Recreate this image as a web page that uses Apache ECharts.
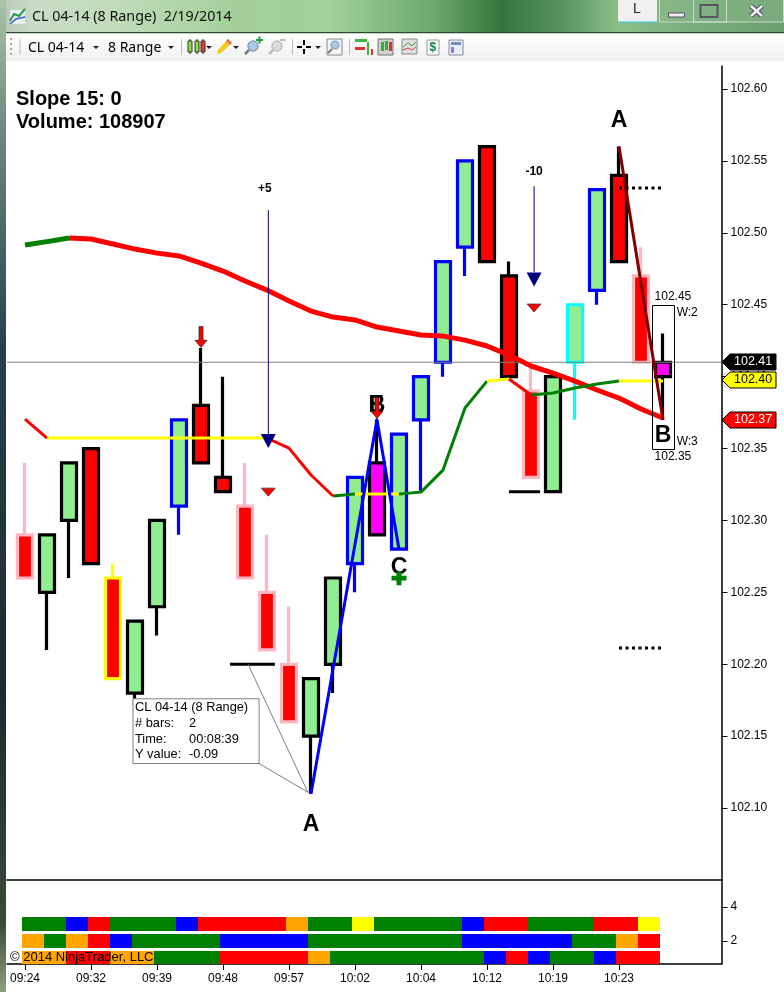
<!DOCTYPE html>
<html><head><meta charset="utf-8">
<style>html,body{margin:0;padding:0;background:#fff}#c{width:784px;height:992px}</style>
<script src="https://cdn.jsdelivr.net/npm/echarts@6/dist/echarts.min.js"></script>
</head><body><div id="c"></div>
<script>
// ---- data ----
const timeLabels = ['09:24','09:32','09:39','09:48','09:57','10:02','10:04','10:12','10:19','10:23'];
const timeTickBars = [0,3,6,9,12,15,18,21,24,27];
const priceTicks = [102.10,102.15,102.20,102.25,102.30,102.35,102.40,102.45,102.50,102.55,102.60];
const lowerTicks = [2,4];
const opens  = [102.29,102.25,102.30,102.35,102.26,102.18,102.24,102.31,102.38,102.33,102.31,102.25,102.20,102.15,102.20,102.27,102.29,102.28,102.37,102.41,102.49,102.56,102.47,102.39,102.32,102.41,102.46,102.54,102.47,102.40];
const closes = [102.26,102.29,102.34,102.27,102.19,102.23,102.30,102.37,102.34,102.32,102.26,102.21,102.16,102.19,102.26,102.33,102.34,102.36,102.40,102.48,102.55,102.48,102.40,102.33,102.40,102.45,102.53,102.48,102.41,102.41];
const lows   = [102.26,102.21,102.26,102.27,102.19,102.17,102.22,102.29,102.34,102.32,102.26,102.21,102.16,102.11,102.18,102.25,102.29,102.28,102.32,102.40,102.47,102.48,102.40,102.33,102.32,102.37,102.45,102.48,102.41,102.37];
const highs  = [102.34,102.29,102.34,102.35,102.27,102.23,102.30,102.37,102.42,102.40,102.34,102.29,102.24,102.19,102.26,102.33,102.37,102.36,102.40,102.48,102.55,102.56,102.48,102.41,102.40,102.45,102.53,102.56,102.49,102.43];
const barOutline = ['pink','black','black','black','yellow','black','black','blue','black','black','pink','pink','pink','black','black','blue','black','blue','blue','blue','blue','black','black','pink','black','cyan','blue','black','pink','black'];
const magentaBars = [16,29];
const slowMA = [102.4915,102.4939,102.4964,102.4957,102.4922,102.4887,102.4859,102.4839,102.4790,102.4734,102.4665,102.4602,102.4526,102.4456,102.4414,102.4394,102.4345,102.4317,102.4289,102.4282,102.4254,102.4213,102.4150,102.4074,102.4025,102.3969,102.3907,102.3851,102.3775,102.3712];
const slowMAColorRuns = [['green',2],['red',27]];
const fastMA = [102.3705,102.3573,102.3573,102.3573,102.3573,102.3573,102.3573,102.3573,102.3573,102.3573,102.3573,102.3573,102.3503,102.3316,102.3170,102.3184,102.3184,102.3184,102.3197,102.3350,102.3782,102.3969,102.3983,102.3872,102.3886,102.3921,102.3949,102.3969,102.3969,102.3969];
const fastMAColorRuns = [['red',1],['yellow',10],['red',3],['green',1],['yellow',2],['green',4],['yellow',1],['red',1],['green',4],['yellow',2]];
const zigzagBlue = [[13,102.11],[16,102.37],[17,102.28]];
const zigzagRed = [[27,102.56],[29,102.37]];
const crosshairPrice = 102.41;
const blackLevels = [[9.32,11.36,102.20],[22,23.41,102.32]];
const dottedLevels = [[27,29.05,102.5312],[27,29.05,102.2113]];
const arrowStems = [[11.06,102.5159,102.3594],[23.14,102.5325,102.4727]];
const navyTriangles = [[11.06,102.3552],[23.14,102.4675]];
const redTriangles = [[11.06,102.3197],[23.14,102.4477]];
const redArrows = [[8,102.4275],[16,102.3782]];
const greenPlus = [[17,102.2599]];
const bigLabels = [[13,102.0882,'A'],[27,102.578,'A'],[29,102.359,'B'],[17,102.267,'C'],[15.96,102.3796,'E'],[16,102.3796,'B']];
const stemLabels = [[10.9,102.5305,'+5'],[23.14,102.5423,'-10']];
const smallLabels = [[29.45,102.4553,'102.45'],[30.1,102.4442,'W:2'],[30.1,102.3545,'W:3'],[29.45,102.3441,'102.35']];
const rangeBox = [28.5,102.45,29.5,102.35];
const measureBox = [4.91,102.176,10.64,102.131];
const measureLines = ['CL 04-14 (8 Range)','# bars:','Time:','Y value:'];
const measureValues = ['','2','00:08:39','-0.09'];
const measureLeaders = [[[10.14,102.20],[12.86,102.111]],[[10.64,102.131],[12.86,102.111]]];
const priceTags = [[102.41,'102.41','black'],[102.398,'102.40','yellow'],[102.37,'102.37','red']];
const row3Runs = [['green',2],['blue',1],['red',1],['green',3],['blue',1],['red',4],['orange',1],['green',2],['yellow',1],['green',4],['blue',1],['red',2],['green',3],['red',2],['yellow',1]];
const row2Runs = [['orange',1],['green',1],['orange',1],['red',1],['blue',1],['green',4],['blue',4],['green',7],['blue',5],['green',2],['orange',1],['red',1]];
const row1Runs = [['orange',2],['red',2],['orange',2],['green',3],['red',4],['orange',1],['green',7],['blue',1],['red',1],['blue',1],['green',2],['blue',1],['red',2]];

// ---- layout constants ----
const F = '"Liberation Sans",Arial,sans-serif';
const palette = {green:'#008000',red:'#ff0000',blue:'#0000ff',yellow:'#ffff00',orange:'#ffa500',black:'#000',pink:'#ffb6c1',cyan:'#00ffff'};
const L=7,R=721.5,T=66,M=880,B=964;
const xMin=(L-25)/22,xMax=(R-25)/22;

const candleData = opens.map((o,i)=>{
  const c=palette[barOutline[i]];
  const fill=magentaBars.includes(i)?'#ff00ff':(closes[i]>o?'#90ee90':'#ff0000');
  return {value:[i,o,closes[i],lows[i],highs[i]],itemStyle:{color:fill,color0:fill,borderColor:c,borderColor0:c,borderColorDoji:c}};
});
function lineS(data,color,width,extra){return Object.assign({type:'line',data,symbol:'none',silent:true,animation:false,z:4,xAxisIndex:0,yAxisIndex:0,lineStyle:{color,width,cap:'butt',join:'round'}},extra||{});}
function runsSeries(vals,runs,width,z){
  const out=[];let s=0;
  runs.forEach(([c,n])=>{const d=[];for(let k=s;k<=s+n;k++)d.push([k,vals[k]]);out.push(lineS(d,palette[c],width,{z}));s+=n;});
  return out;
}
function labels(data,font,z){return {type:'scatter',data,symbolSize:1,itemStyle:{color:'transparent',opacity:1},silent:true,animation:false,z:z||8,clip:false,
  label:Object.assign({show:true,position:'inside',formatter:p=>p.data[2],color:'#000',fontFamily:F},font)};}
const cells=[];
[[3,row3Runs],[2,row2Runs],[1,row1Runs]].forEach(([row,runs])=>{let i=0;runs.forEach(([c,n])=>{for(let k=0;k<n;k++){cells.push([i,row,c]);i++;}});});

const arrowPath='path://M4,0 L8,0 L8,13 L12,13 L6,20 L0,13 L4,13 Z';
const plusPath='path://M5,0 L10,0 L10,5 L15,5 L15,10 L10,10 L10,15 L5,15 L5,10 L0,10 L0,5 L5,5 Z';

const series=[
 {type:'candlestick',data:candleData,encode:{x:0,y:[1,2,3,4]},barWidth:15,animation:false,silent:true,z:2,itemStyle:{borderWidth:3.2},clip:false},
 lineS([[xMin,crosshairPrice],[xMax,crosshairPrice]],'#808080',1,{z:3}),
 ...runsSeries(slowMA,slowMAColorRuns,5,4),
 ...runsSeries(fastMA,fastMAColorRuns,3,5),
 lineS(zigzagBlue,'#0000ff',3,{z:6}),
 lineS(zigzagRed,'#800000',3,{z:6}),
 ...blackLevels.map(([a,b,p])=>lineS([[a,p],[b,p]],'#000',3,{z:6})),
 ...dottedLevels.map(([a,b,p])=>{const s=lineS([[a,p],[b,p]],'#000',3,{z:6});s.lineStyle.type=[3,3.5];return s;}),
 ...arrowStems.map(([x,a,b])=>lineS([[x,a],[x,b]],'#000080',1,{z:6})),
 ...measureLeaders.map(l=>lineS(l,'#808080',1,{z:6})),
 {type:'scatter',data:navyTriangles,symbol:'triangle',symbolRotate:180,symbolSize:[15,14],itemStyle:{color:'#000080',opacity:1},z:7,silent:true,animation:false},
 {type:'scatter',data:redTriangles,symbol:'triangle',symbolRotate:180,symbolSize:[14,8],itemStyle:{color:'#ff0000',borderColor:'#333',borderWidth:.7,opacity:1},z:7,silent:true,animation:false},
 {type:'scatter',data:redArrows,symbol:arrowPath,symbolSize:[12,21],itemStyle:{color:'#ff0000',borderColor:'#222',borderWidth:.7,opacity:1},z:9,silent:true,animation:false},
 {type:'scatter',data:greenPlus,symbol:plusPath,symbolSize:[15,14],itemStyle:{color:'#008000',opacity:1},z:9,silent:true,animation:false},
 {type:'custom',z:6,silent:true,animation:false,data:[rangeBox],renderItem:(p,api)=>{
   const a=api.coord([api.value(0),api.value(1)]),b=api.coord([api.value(2),api.value(3)]);
   return {type:'rect',shape:{x:Math.round(a[0])+.5,y:Math.round(a[1])+.5,width:Math.round(b[0]-a[0]),height:Math.round(b[1]-a[1])},style:{fill:'transparent',stroke:'#000',lineWidth:1}};
 }},
 {type:'custom',z:7,silent:true,animation:false,data:[measureBox],renderItem:(p,api)=>{
   const a=api.coord([api.value(0),api.value(1)]),b=api.coord([api.value(2),api.value(3)]);
   const ch=[{type:'rect',shape:{x:a[0],y:a[1],width:b[0]-a[0],height:b[1]-a[1]},style:{fill:'#fff',stroke:'#808080',lineWidth:1}}];
   measureLines.forEach((t,i)=>{
     const y=a[1]+9+i*15.7;
     ch.push({type:'text',style:{text:t,x:a[0]+2,y,fill:'#000',font:'12.8px '+F,textVerticalAlign:'middle'}});
     if(measureValues[i])ch.push({type:'text',style:{text:measureValues[i],x:a[0]+56,y,fill:'#000',font:'12.8px '+F,textVerticalAlign:'middle'}});
   });
   return {type:'group',children:ch};
 }},
 labels(bigLabels,{fontSize:23,fontWeight:'bold'}),
 labels(stemLabels,{fontSize:12,fontWeight:'bold'}),
 labels(smallLabels,{fontSize:12}),
 {type:'custom',z:10,silent:true,animation:false,data:priceTags.map(t=>[xMax,t[0]]),clip:false,
  renderItem:(p,api)=>{
   const tag=priceTags[p.dataIndex],y=Math.round(api.coord([xMax,tag[0]])[1]),x=722;
   return {type:'group',children:[
    {type:'polygon',shape:{points:[[x,y],[x+8,y-8],[776,y-8],[776,y+8],[x+8,y+8]]},style:{fill:palette[tag[2]],stroke:'#000',lineWidth:1}},
    {type:'text',style:{text:tag[1],x:734,y,fill:tag[2]==='yellow'?'#000':'#fff',font:'12.5px '+F,textVerticalAlign:'middle'}}
   ]};
 }},
 {type:'custom',xAxisIndex:1,yAxisIndex:1,data:cells,clip:true,silent:true,animation:false,z:2,
  renderItem:(p,api)=>{
   const i=api.value(0),r=api.value(1),a=api.coord([i-3/22,r+.44]),b=api.coord([i+19/22,r-.44]);
   const c=palette[cells[p.dataIndex][2]];
   const x0=Math.round(a[0]),x1=Math.round(b[0]),y0=Math.round(a[1]),y1=Math.round(b[1]);
   return {type:'rect',shape:{x:x0,y:y0,width:x1-x0,height:y1-y0},style:{fill:c,stroke:null}};
 }}
];

// ---- window chrome ----
const g=[];
const rect=(x,y,w,h,fill,extra)=>g.push(Object.assign({type:'rect',shape:{x,y,width:w,height:h},style:Object.assign({fill},extra&&extra.style||{}),z:extra&&extra.z||0,silent:true}));
const text=(t,x,y,font,fill)=>g.push({type:'text',style:{text:t,x,y,font:font,fill:fill||'#000',textVerticalAlign:'middle'},z:3,silent:true});
const poly=(pts,fill)=>g.push({type:'polygon',shape:{points:pts},style:{fill},z:2,silent:true});
const pl=(pts,stroke,w)=>g.push({type:'polyline',shape:{points:pts},style:{stroke,lineWidth:w,fill:null},z:2,silent:true});
const circ=(x,y,r,fill,stroke,w)=>g.push({type:'circle',shape:{cx:x,cy:y,r},style:{fill,stroke,lineWidth:w||1},z:2,silent:true});
const hgrad=(st)=>({type:'linear',x:0,y:0,x2:1,y2:0,colorStops:st});
const vgrad=(st)=>({type:'linear',x:0,y:0,x2:0,y2:1,colorStops:st});
rect(0,0,784,33,hgrad([{offset:0,color:'#b7c4b7'},{offset:.04,color:'#c9dcc6'},{offset:.14,color:'#c2dcbc'},{offset:.3,color:'#a3d09a'},{offset:.42,color:'#a0d29a'},{offset:.55,color:'#6faa6f'},{offset:.64,color:'#33763a'},{offset:.72,color:'#5a9660'},{offset:.79,color:'#8cc088'},{offset:.88,color:'#79ae7c'},{offset:1,color:'#6aa070'}]));
rect(0,0,6,992,vgrad([{offset:0,color:'#aac4a6'},{offset:.12,color:'#6f8f80'},{offset:.35,color:'#27404f'},{offset:.7,color:'#1e2a30'},{offset:.93,color:'#3a4a3a'},{offset:1,color:'#8aa07a'}]));
rect(6,32,778,1.5,'#2a4a30');
rect(6,33.5,778,28,vgrad([{offset:0,color:'#ffffff'},{offset:1,color:'#f0f0f0'}]));
// title bar
rect(10,10,15,14,'#e8eef5');pl([[10,21],[14,14],[19,16],[25,9]],'#2a9a4a',2);pl([[10,24],[16,19],[25,17]],'#3060c0',1.5);
text('CL 04-14 (8 Range)  2/19/2014',32,16.5,'14.3px "Noto Sans",sans-serif','#111');
// toolbar
for(let k=0;k<4;k++)rect(10,38+k*5,2,2,'#aaa');
rect(19.5,39,1,16,'#bbb');
text('CL 04-14',28,48,'14px "Noto Sans",sans-serif');
poly([[93,46],[99,46],[96,49]],'#222');
text('8 Range',108,48,'14px "Noto Sans",sans-serif');
poly([[168,46],[174,46],[171,49]],'#222');
rect(181,39,1,16,'#bbb');
[[188,'#8ee03a'],[195,'#8ee03a'],[201,'#ee3a30']].forEach(([x,c])=>{rect(x+1.5,39,1,15,'#222');rect(x,41,4,11,c,{style:{stroke:'#333',lineWidth:1}});});
poly([[206,46],[212,46],[209,49]],'#222');
poly([[217,54],[218,50],[228,39],[232,43],[221,53]],'#f2c81e');poly([[228,39],[232,43],[230,45],[226,41]],'#e07060');
poly([[233,46],[239,46],[236,49]],'#222');
circ(253,46,5,'#a8c8e8','#8aa0b8',1.5);pl([[249,50],[245,54]],'#777',2.5);rect(256,39,7,2,'#10a040');rect(258.5,36.5,2,7,'#10a040');
circ(277,46,5,'#dcdcdc','#c0c0c0',1.5);pl([[273,50],[269,54]],'#bbb',2.5);rect(280,39,6,2,'#bbb');
rect(292,39,1,16,'#bbb');
rect(297,46,5,2,'#000');rect(306,46,5,2,'#000');rect(303,40,2,5,'#000');rect(303,49,2,5,'#000');
poly([[315,46],[321,46],[318,49]],'#222');
rect(327,39,15,16,'#f4f4f4',{style:{stroke:'#888',lineWidth:1}});circ(335,45,4,'#a8c8e8','#8aa0b8',1.2);pl([[332,49],[328,53]],'#777',2);
rect(349,39,1,16,'#bbb');
rect(355,39,12,3,'#40b040');rect(355,47,10,3,'#e03030');rect(367,42,2,13,'#40b040');rect(371,49,2,6,'#e03030');
rect(378,39,15,16,'#cfcfcf',{style:{stroke:'#777',lineWidth:1}});rect(381,42,3,9,'#30b030');rect(385,41,3,9,'#30b030');rect(389,42,3,9,'#e03030');
rect(402,39,15,15,'#e0e0e0',{style:{stroke:'#888',lineWidth:1}});pl([[403,47],[408,43],[412,46],[416,42]],'#30a030',1);pl([[403,50],[408,48],[412,50],[416,47]],'#e04040',1);
rect(427,40,12,15,'#fafafa',{style:{stroke:'#999',lineWidth:1}});text('$',429.5,48,'bold 12px '+F,'#108040');
rect(449,40,14,15,'#e8eef8',{style:{stroke:'#889',lineWidth:1}});rect(451,42,10,3,'#7090c0');rect(451,47,3,6,'#a070e0');
// window buttons
rect(659.5,-2,124,24,'rgba(150,190,150,.35)',{style:{stroke:'#c8dcc8',lineWidth:1}});
rect(693.5,-2,33,24,'rgba(0,0,0,0)',{style:{stroke:'#c8dcc8',lineWidth:1}});
rect(617.5,-1,40,23,'#f0f0f0',{style:{stroke:'#38c8e8',lineWidth:1}});
text('L',633,9,'14px '+F,'#223');
rect(668.5,13,16,4,'#eee',{style:{stroke:'#556',lineWidth:1}});
rect(700.5,5,17,12,'none',{style:{stroke:'#556',lineWidth:2}});
pl([[751,6],[762,16]],'#556',5);pl([[762,6],[751,16]],'#556',5);pl([[751,6],[762,16]],'#eee',2.5);pl([[762,6],[751,16]],'#eee',2.5);
// text
text('Slope 15: 0',16,99,'bold 20px '+F);
text('Volume: 108907',16,122,'bold 20px '+F);
g.push({type:'text',style:{text:'© 2014 NinjaTrader, LLC',x:10,y:957,font:'13px '+F,fill:'#000',textVerticalAlign:'middle'},z:50,silent:true});

const chart=echarts.init(document.getElementById('c'),null,{renderer:'canvas'});
chart.setOption({
 animation:false,backgroundColor:'#fff',
 graphic:{elements:g},
 grid:[{left:L,top:T,width:R-L,height:M-T,containLabel:false},{left:L,top:M,width:R-L,height:B-M,containLabel:false}],
 xAxis:[
  {type:'value',gridIndex:0,min:xMin,max:xMax,splitLine:{show:false},axisTick:{show:false},axisLabel:{show:false},axisLine:{show:true,onZero:false,lineStyle:{color:'#000',width:1.5}}},
  {type:'value',gridIndex:1,min:xMin,max:xMax,splitLine:{show:false},
   axisLine:{show:true,onZero:false,lineStyle:{color:'#000',width:1.5}},
   axisTick:{show:true,length:6,customValues:timeTickBars,lineStyle:{color:'#000'}},
   axisLabel:{show:true,customValues:timeTickBars,margin:9,color:'#000',fontSize:12,fontFamily:F,formatter:v=>timeLabels[timeTickBars.indexOf(Math.round(v))]||'',hideOverlap:false,showMinLabel:true,showMaxLabel:true}}
 ],
 yAxis:[
  {type:'value',gridIndex:0,position:'right',min:102.05,max:102.616,scale:true,splitLine:{show:false},
   axisLine:{show:true,onZero:false,lineStyle:{color:'#000',width:1.5}},
   axisTick:{show:true,length:6,customValues:priceTicks,lineStyle:{color:'#000'}},
   axisLabel:{show:true,customValues:priceTicks,margin:9,padding:[2,0,0,0],color:'#000',fontSize:12,fontFamily:F,formatter:v=>v.toFixed(2)}},
  {type:'value',gridIndex:1,position:'right',min:.647,max:5.588,scale:true,splitLine:{show:false},
   axisLine:{show:true,onZero:false,lineStyle:{color:'#000',width:1.5}},
   axisTick:{show:true,length:6,customValues:lowerTicks,lineStyle:{color:'#000'}},
   axisLabel:{show:true,customValues:lowerTicks,margin:9,padding:[2,0,0,0],color:'#000',fontSize:12,fontFamily:F}}
 ],
 series
});
</script></body></html>
